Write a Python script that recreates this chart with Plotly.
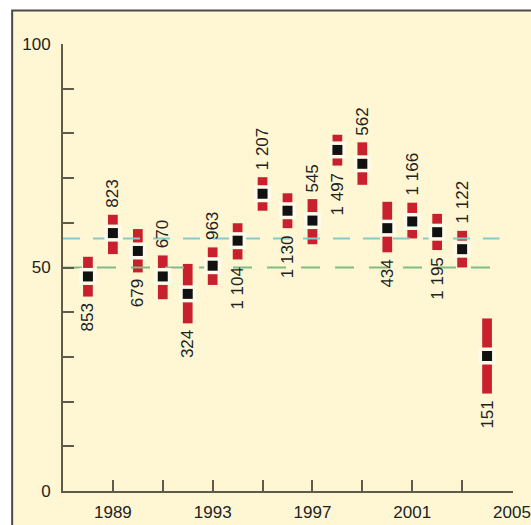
import plotly.graph_objects as go

# Survey estimates by year: point estimate, interval bounds, sample size
years = list(range(1988, 2005))
means = [48.0, 57.7, 53.7, 48.0, 44.1, 50.4, 56.0, 66.5, 62.7, 60.5,
         76.3, 73.2, 58.8, 60.3, 57.9, 54.1, 30.2]
upper = [52.4, 61.8, 58.6, 52.7, 50.8, 54.5, 59.9, 70.2, 66.6, 65.3,
         79.7, 78.0, 64.7, 64.5, 62.0, 58.2, 38.6]
lower = [43.5, 53.0, 48.9, 42.9, 37.5, 46.1, 51.8, 62.7, 58.8, 55.2,
         72.8, 68.5, 53.4, 56.5, 53.9, 50.0, 21.8]
counts = [853, 823, 679, 670, 324, 963, 1104, 1207, 1130, 545,
          1497, 562, 434, 1166, 1195, 1122, 151]

# Reference levels (dashed lines)
ref_teal = 56.5
ref_green = 50.0
ref_x = [1987, 2004.5]

x_labels = [1989, 1993, 1997, 2001, 2005]
x_minor = [1991, 1995, 1999, 2003, 2005]
y_labels = [0, 50, 100]

CREAM = "#FFF7D4"
RED = "#C8202C"
AXIS = "#5E5A4C"
FONT = "Liberation Sans, Arial, sans-serif"

fig = go.Figure()

fig.add_trace(go.Scatter(x=ref_x, y=[ref_teal] * 2, mode="lines",
                         line=dict(color="#86CACC", width=2, dash="17px,13px"),
                         hoverinfo="skip"))
fig.add_trace(go.Scatter(x=ref_x, y=[ref_green] * 2, mode="lines",
                         line=dict(color="#7DBE86", width=2, dash="19px,15px"),
                         hoverinfo="skip"))

# Interval bars
fig.add_trace(go.Bar(x=years, y=[u - l for u, l in zip(upper, lower)], base=lower,
                     width=0.39, marker=dict(color=RED, line=dict(width=0))))

# Light halo separating the point from the interval bar
fig.add_trace(go.Scatter(x=years, y=means, mode="markers",
                         marker=dict(symbol="square", size=17, color="#FFFBEA",
                                     line=dict(width=0))))
# Point estimates
fig.add_trace(go.Scatter(x=years, y=means, mode="markers",
                         marker=dict(symbol="square", size=10, color="#111111",
                                     line=dict(width=0))))

# Sample-size labels, alternating above and below the bars
for i, (yr, n) in enumerate(zip(years, counts)):
    txt = f"{n:,}".replace(",", " ")
    above = i % 2 == 1
    fig.add_annotation(x=yr, y=upper[i] if above else lower[i], text=txt,
                       textangle=-90, showarrow=False,
                       xanchor="center", yanchor="bottom" if above else "top",
                       yshift=5 if above else -5,
                       font=dict(family=FONT, size=17, color="#222222"))

# Cream panel with a dark frame on the left and top
fig.add_shape(type="rect", xref="paper", yref="paper",
              x0=-0.113, x1=1.3, y0=-0.3, y1=1.075,
              fillcolor=CREAM, line=dict(color="#4A4A4A", width=2), layer="below")

fig.update_layout(
    width=531, height=525,
    margin=dict(l=63, r=18, t=44, b=34),
    paper_bgcolor="white", plot_bgcolor="rgba(0,0,0,0)",
    showlegend=False, barmode="overlay",
    font=dict(family=FONT, size=17, color="#222222"),
    xaxis=dict(range=[1987, 2005.04], tickvals=x_labels, ticks="inside", ticklen=11,
               tickwidth=2, tickcolor=AXIS, showline=True, linecolor=AXIS,
               linewidth=2, showgrid=False, zeroline=False, automargin=False,
               ticklabeloverflow="allow", ticklabelstandoff=5,
               minor=dict(tickvals=x_minor, ticks="inside", ticklen=11,
                          tickwidth=2, tickcolor=AXIS, showgrid=False)),
    yaxis=dict(range=[0, 100], tickvals=y_labels, ticks="inside", ticklen=11,
               tickwidth=2, tickcolor=AXIS, showline=True, linecolor=AXIS,
               linewidth=2, showgrid=False, zeroline=False, automargin=False,
               ticklabeloverflow="allow", ticklabelstandoff=7,
               minor=dict(dtick=10, ticks="inside", ticklen=11,
                          tickwidth=2, tickcolor=AXIS, showgrid=False)),
)

fig.write_html("out.html")
